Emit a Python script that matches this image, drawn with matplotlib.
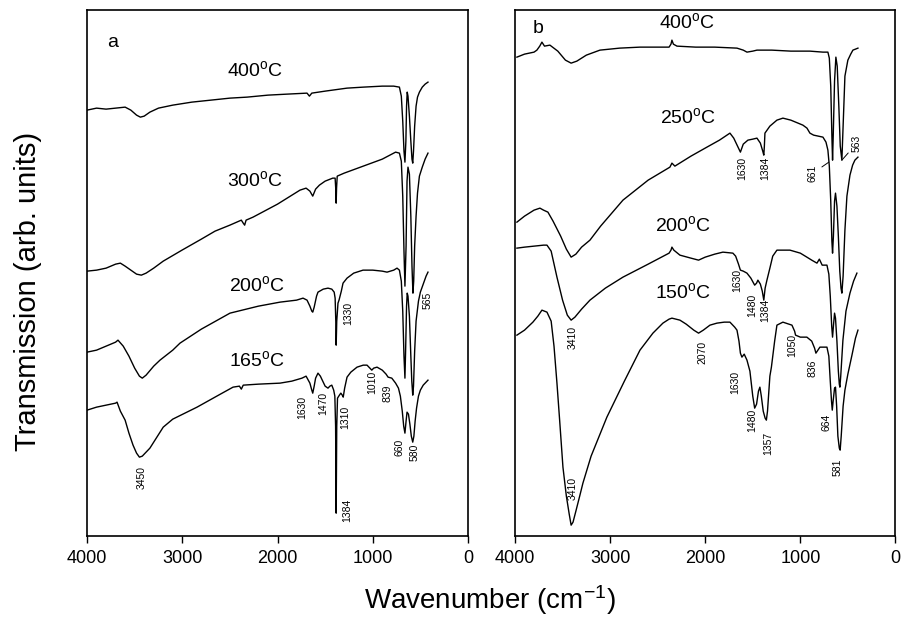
import matplotlib
matplotlib.use("Agg")
import matplotlib.pyplot as plt

plt.rcParams['font.family'] = ['Liberation Sans', 'DejaVu Sans']
plt.rcParams['mathtext.default'] = 'regular'

# ---- panel a : spectra (wavenumber, transmission in arb. units) ----
a400_wn = [4000, 3900, 3800, 3700, 3600, 3540, 3480, 3440, 3400, 3340, 3250, 3100, 2900, 2700, 2500, 2320, 2100, 1900,
           1690, 1665, 1640, 1500, 1270, 1100, 900, 780, 720, 700, 685, 672, 662, 652, 645, 638, 630, 615, 600, 588, 580,
           572, 560, 545, 530, 510, 480, 450, 420]
a400_t = [426, 428, 427, 428, 429, 426, 421, 419, 420, 424, 428, 431, 434, 436, 438, 439, 441, 442,
          443, 440, 443, 445, 448, 449, 450, 450, 449, 440, 415, 385, 374, 395, 430, 444, 440, 420, 395, 377, 373,
          385, 410, 430, 439, 444, 449, 452, 454]

a300_wn = [4000, 3900, 3800, 3700, 3650, 3600, 3540, 3480, 3430, 3380, 3300, 3200, 3003, 2800, 2656, 2500, 2380, 2360,
           2345, 2330, 2257, 2000, 1764, 1700, 1660, 1630, 1600, 1560, 1500, 1420, 1395, 1387, 1384, 1380, 1373, 1300,
           1100, 900, 760, 720, 700, 685, 672, 662, 650, 640, 630, 615, 600, 588, 578, 570, 560, 545, 530, 510, 480,
           450, 420]
a300_t = [265, 266, 268, 272, 273, 270, 266, 262, 261, 263, 268, 275, 286, 297, 305, 311, 316, 313,
          311, 316, 319, 332, 346, 348, 345, 340, 347, 351, 355, 358, 358, 345, 333, 348, 360, 363,
          370, 377, 384, 383, 375, 340, 285, 250, 290, 355, 369, 362, 320, 270, 243, 255, 290, 320, 343, 360, 369,
          377, 383]

a200_wn = [4000, 3900, 3800, 3700, 3675, 3620, 3560, 3500, 3450, 3420, 3380, 3300, 3234, 3100, 3024, 2800, 2499, 2200,
           1974, 1800, 1732, 1690, 1660, 1640, 1630, 1615, 1590, 1575, 1520, 1470, 1430, 1405, 1395, 1388, 1384, 1378,
           1365, 1354, 1330, 1312, 1270, 1200, 1102, 1000, 900, 850, 780, 745, 720, 700, 685, 672, 662, 655, 645, 638,
           630, 615, 600, 590, 580, 572, 560, 545, 520, 500, 470, 440, 420]
a200_t = [184, 186, 190, 194, 196, 190, 180, 168, 160, 158, 161, 170, 176, 186, 193, 207, 223, 230,
          234, 236, 238, 236, 230, 225, 224, 229, 240, 244, 247, 248, 247, 244, 238, 215, 191, 215,
          233, 236, 245, 253, 258, 263, 266, 266, 265, 264, 266, 268, 266, 255, 225, 180, 158, 185, 230, 243,
          240, 220, 180, 155, 141, 150, 185, 215, 235, 244, 252, 260, 264]

a165_wn = [4000, 3900, 3800, 3700, 3685, 3650, 3600, 3560, 3517, 3480, 3450, 3420, 3380, 3340, 3280, 3200, 3100, 2845,
           2600, 2467, 2400, 2380, 2360, 2200, 1974, 1850, 1743, 1700, 1660, 1640, 1630, 1615, 1600, 1575, 1550, 1530,
           1500, 1470, 1450, 1430, 1410, 1398, 1390, 1384, 1378, 1370, 1350, 1335, 1320, 1310, 1295, 1270, 1230, 1165,
           1100, 1060, 1030, 1010, 990, 955, 900, 860, 839, 800, 760, 730, 710, 690, 675, 662, 650, 640, 625, 610,
           595, 580, 568, 555, 540, 520, 500, 470, 440, 420]
a165_t = [126, 129, 131, 133, 134, 125, 116, 103, 91, 83, 79, 80, 84, 88, 97, 109, 117, 129,
          142, 149, 150, 147, 151, 152, 153, 155, 158, 160, 153, 146, 143, 150, 158, 163, 160, 156,
          150, 148, 150, 151, 146, 140, 110, 23, 110, 138, 141, 143, 141, 139, 148, 159, 164, 169,
          171, 171, 168, 166, 168, 169, 166, 162, 159, 158, 153, 148, 140, 125, 110, 103, 115, 124, 122, 112,
          100, 94, 100, 115, 128, 140, 146, 151, 154, 156]

# ---- panel b ----
b400_wn = [3980, 3900, 3800, 3770, 3740, 3717, 3690, 3633, 3550, 3470, 3410, 3350, 3250, 3107, 2900, 2686, 2500, 2380,
           2360, 2350, 2335, 2297, 2100, 1900, 1666, 1600, 1561, 1500, 1456, 1300, 1100, 900, 762, 710, 695, 680, 668,
           661, 654, 640, 626, 612, 595, 580, 563, 550, 531, 500, 470, 447, 420, 394]
b400_t = [479, 482, 484, 486, 490, 494, 490, 491, 485, 476, 473, 475, 481, 486, 488, 489, 489, 489,
          492, 496, 492, 490, 489, 489, 488, 486, 484, 485, 486, 486, 485, 485, 484, 484, 478, 450, 400,
          376, 400, 455, 479, 470, 430, 390, 376, 410, 460, 476, 482, 486, 487, 488]

b250_wn = [3980, 3900, 3800, 3738, 3700, 3654, 3600, 3520, 3460, 3410, 3360, 3300, 3212, 3100, 2865, 2600, 2371, 2350,
           2319, 2150, 1982, 1850, 1740, 1700, 1660, 1630, 1600, 1551, 1500, 1456, 1420, 1395, 1384, 1378, 1372, 1320,
           1246, 1183, 1100, 973, 930, 899, 860, 762, 730, 710, 695, 680, 668, 661, 652, 640, 630, 615, 600, 585, 572,
           563, 550, 531, 510, 478, 450, 426, 394]
b250_t = [314, 320, 326, 328, 326, 324, 315, 300, 287, 279, 282, 289, 296, 310, 336, 356, 369, 373,
          370, 380, 389, 396, 403, 398, 390, 384, 392, 396, 397, 398, 393, 385, 381, 390, 403, 410,
          416, 418, 416, 411, 408, 403, 401, 399, 394, 386, 370, 335, 295, 283, 300, 335, 343, 330, 300, 265, 248,
          243, 260, 306, 340, 361, 371, 376, 379]

b200_wn = [3980, 3900, 3800, 3700, 3664, 3620, 3559, 3500, 3450, 3410, 3370, 3300, 3212, 3050, 2865, 2600, 2380, 2360,
           2350, 2330, 2266, 2150, 2070, 2000, 1900, 1814, 1709, 1680, 1650, 1630, 1600, 1561, 1520, 1480, 1460, 1446,
           1420, 1400, 1384, 1370, 1351, 1320, 1290, 1246, 1109, 1000, 931, 880, 825, 800, 770, 720, 700, 685, 670,
           661, 652, 640, 630, 615, 600, 590, 584, 575, 552, 520, 478, 440, 405]
b200_t = [288, 289, 290, 291, 291, 285, 259, 236, 221, 216, 219, 227, 236, 248, 259, 272, 283, 286,
          289, 286, 281, 278, 276, 279, 282, 284, 283, 280, 272, 266, 265, 263, 258, 251, 253, 256,
          252, 245, 236, 248, 256, 268, 280, 286, 286, 283, 279, 276, 273, 277, 271, 271, 262, 240, 210,
          199, 210, 223, 218, 195, 165, 152, 149, 160, 196, 225, 243, 255, 263]

b150_wn = [3980, 3900, 3812, 3760, 3717, 3664, 3620, 3590, 3559, 3530, 3496, 3460, 3430, 3410, 3390, 3360, 3320, 3286,
           3200, 3034, 2850, 2686, 2550, 2445, 2380, 2350, 2266, 2200, 2120, 2070, 2020, 1950, 1877, 1800, 1740, 1690,
           1666, 1645, 1630, 1614, 1590, 1561, 1530, 1500, 1480, 1460, 1440, 1425, 1410, 1390, 1370, 1357, 1345, 1320,
           1304, 1270, 1246, 1183, 1120, 1088, 1060, 1050, 1000, 931, 880, 850, 836, 815, 794, 760, 720, 700, 685,
           672, 664, 655, 640, 630, 618, 605, 590, 581, 570, 550, 531, 500, 457, 420, 394]
b150_t = [201, 206, 214, 220, 226, 224, 215, 190, 153, 115, 69, 40, 22, 11, 14, 25, 40, 53,
          80, 119, 155, 186, 203, 213, 217, 218, 216, 212, 206, 203, 206, 211, 213, 214, 214, 209,
          206, 195, 183, 179, 182, 176, 165, 140, 128, 132, 145, 149, 140, 125, 118, 116, 125, 160,
          169, 195, 211, 214, 212, 211, 205, 201, 199, 199, 195, 188, 183, 186, 189, 189, 189, 180, 155,
          135, 126, 135, 148, 149, 130, 100, 88, 86, 100, 130, 146, 162, 181, 198, 206]

xticks = [4000, 3000, 2000, 1000, 0]

fig = plt.figure(figsize=(9.01, 6.33), dpi=100)
ax_a = fig.add_axes([0.0966, 0.153, 0.4228, 0.831])
ax_b = fig.add_axes([0.5716, 0.153, 0.4222, 0.831])

for ax in (ax_a, ax_b):
    ax.set_xlim(4000, 0)
    ax.set_ylim(0, 526)
    ax.set_xticks(xticks)
    ax.set_xticklabels([str(t) for t in xticks])
    ax.set_yticks([])
    ax.tick_params(axis='x', direction='out', length=5, width=1, labelsize=13, pad=5)
    for s in ax.spines.values():
        s.set_linewidth(1.2)

lw = 1.0
ax_a.plot(a400_wn, a400_t, color='black', lw=lw)
ax_a.plot(a300_wn, a300_t, color='black', lw=lw)
ax_a.plot(a200_wn, a200_t, color='black', lw=lw)
ax_a.plot(a165_wn, a165_t, color='black', lw=lw)

ax_b.plot(b400_wn, b400_t, color='black', lw=lw)
ax_b.plot(b250_wn, b250_t, color='black', lw=lw)
ax_b.plot(b200_wn, b200_t, color='black', lw=lw)
ax_b.plot(b150_wn, b150_t, color='black', lw=lw)

# panel letters and temperatures
ax_a.text(3727, 494, 'a', fontsize=14, ha='center', va='center')
ax_b.text(3759, 508, 'b', fontsize=14, ha='center', va='center')

for ax, items in ((ax_a, [('400', 2236, 466), ('300', 2236, 356), ('200', 2215, 251), ('165', 2215, 176)]),
                  (ax_b, [('400', 2192, 514), ('250', 2182, 419), ('200', 2234, 311), ('150', 2234, 244)])):
    for t, x, y in items:
        ax.text(x, y, t + '$^{o}$C', fontsize=14, ha='center', va='center')

# peak labels (rotated)
peaks_a = [('3450', 3423, 59), ('1384', 1270, 26), ('1630', 1743, 129), ('1470', 1522, 133),
           ('1310', 1291, 119), ('1010', 1008, 154), ('839', 840, 143), ('660', 714, 89),
           ('580', 556, 84), ('1330', 1260, 223), ('565', 420, 236)]
peaks_b = [('3410', 3391, 199), ('3410', 3391, 48), ('2070', 2024, 184), ('1630', 1688, 154),
           ('1480', 1509, 116), ('1357', 1341, 93), ('1050', 1088, 191), ('836', 867, 168),
           ('664', 720, 114), ('581', 605, 69), ('1630', 1666, 256), ('1480', 1509, 231),
           ('1384', 1372, 226), ('1630', 1614, 368), ('1384', 1372, 368)]
for t, x, y in peaks_a:
    ax_a.text(x, y, t, fontsize=7.5, rotation=90, ha='center', va='center')
for t, x, y in peaks_b:
    ax_b.text(x, y, t, fontsize=7.5, rotation=90, ha='center', va='center')

ax_b.annotate('661', xy=(700, 374), xytext=(867, 363), fontsize=7.5, rotation=90,
              ha='center', va='center', arrowprops=dict(arrowstyle='-', lw=0.7, shrinkA=1, shrinkB=0))
ax_b.annotate('563', xy=(563, 376), xytext=(405, 393), fontsize=7.5, rotation=90,
              ha='center', va='center', arrowprops=dict(arrowstyle='-', lw=0.7, shrinkA=1, shrinkB=0))

fig.text(0.544, 0.052, 'Wavenumber (cm$^{-1}$)', fontsize=20, ha='center', va='center')
fig.text(0.031, 0.54, 'Transmission (arb. units)', fontsize=21, rotation=90, ha='center', va='center')

fig.savefig('out.png', dpi=100)
